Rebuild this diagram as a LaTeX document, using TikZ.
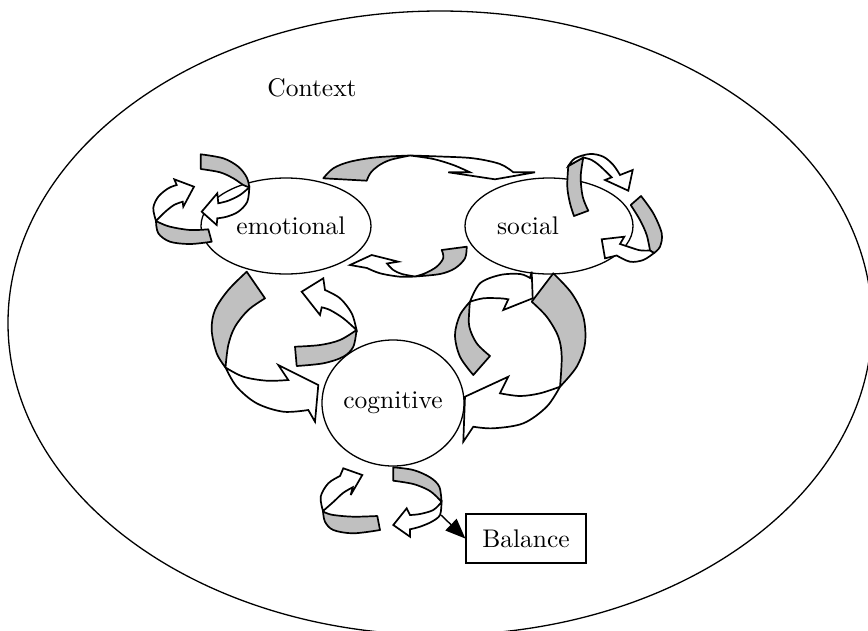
\documentclass[tikz,border=0pt]{standalone}
\usepackage{fontspec}
\newfontfamily\lblfont{lmroman10-regular.otf}
\usetikzlibrary{shapes.geometric,arrows.meta}
\definecolor{ribbongray}{RGB}{192,192,192}
\tikzset{
  areaell/.style={draw, ellipse, line width=1.3pt, inner sep=0pt, fill=white},
  gband/.style={fill=ribbongray, draw=black, line width=1.7pt, line join=round},
  wband/.style={fill=white, draw=black, line width=1.7pt, line join=miter, miter limit=6},
  lbl/.style={font=\lblfont\fontsize{25.5}{30}\selectfont, inner sep=0pt},
  boxnode/.style={draw, line width=1.3pt, inner sep=0pt, minimum width=120pt, minimum height=49pt, font=\lblfont\fontsize{25.5}{30}\selectfont},
  sm/.style={smooth, tension=0.55}
}
\begin{document}
\begin{tikzpicture}[x=1pt,y=-1pt]
\useasboundingbox (0,0) rectangle (868,630);
\clip (0,0) rectangle (868,630);
% context
\node[draw, ellipse, line width=1.3pt, minimum width=864pt, minimum height=624pt, inner sep=0pt] (ctx) at (440,323) {};
\node[lbl, anchor=base] (ctxlabel) at (312,96) {Context};
% domains
\node[areaell, lbl, minimum width=170pt, minimum height=96pt] (emo) at (286,226) {\hspace*{10pt}emotional};
\node[areaell, lbl, minimum width=168pt, minimum height=96pt] (soc) at (549,226) {social\hspace*{42pt}};
\node[areaell, lbl, minimum width=142pt, minimum height=126pt] (cog) at (393,403) {cognitive};

% S1 emotional upper loop
\path[gband] plot[sm] coordinates {(200.7,154.3) (223.3,158.3) (238.3,166.7) (246.7,177.3) (249.3,187.3)} -- plot[sm] coordinates {(249.3,187.3) (243.3,185) (233.3,178.3) (220,172.3) (200.7,169)} -- cycle;
\path[wband] plot[sm] coordinates {(249.3,187.3) (247.3,201.7) (238.3,211.7) (226.7,216.7) (217.3,218.3)} -- (216.7,225) -- (201.7,211.7) -- (217.3,193.3) -- (218.3,203.3) -- plot[sm] coordinates {(218.3,203.3) (228.3,200.7) (240,195) (249.3,187.3)} -- cycle;
% S2 emotional lower-left loop
\path[gband] plot[sm] coordinates {(208.3,229.3) (190,230) (170,226.7) (159,222.5) (156,221)} -- plot[sm] coordinates {(156,221) (158.3,233.3) (170,241.7) (190,244) (211.7,241.7)} -- cycle;
\path[wband] plot[sm] coordinates {(156,221) (153.3,208) (158.3,196.7) (168.3,188.3) (176.7,185)} -- (174.3,179.3) -- (194,186.7) -- (183.3,206.7) -- (182.7,201.7) -- plot[sm] coordinates {(182.7,201.7) (174,205) (165,212) (156,221)} -- cycle;
% S3 top upper arrow
\path[gband] plot[sm] coordinates {(323.3,178.3) (333.3,168.3) (350,161.7) (376.7,157.3) (410,155.5)} -- plot[sm] coordinates {(410,155.5) (390,160) (378,166) (370.5,173) (366.7,180.7)} -- cycle;
\path[wband] plot[sm] coordinates {(410,155.5) (440,156.5) (473.3,158.3) (500,164) (513.3,172.3)} -- (535,172.3) -- (495,179.3) -- (448.3,172.3) -- (470,172.3) -- plot[sm] coordinates {(470,172.3) (453.3,165) (433.3,159) (410,155.5)} -- cycle;
% S4 top lower arrow
\path[gband] plot[sm] coordinates {(466.7,246.7) (465,258.3) (455,268.3) (440,274) (415,276.5)} -- plot[sm] coordinates {(415,276.5) (425,273.3) (436.7,266.7) (443.3,258) (441.7,250)} -- cycle;
\path[wband] plot[sm] coordinates {(415,276.5) (400,276.7) (380,273.3) (367,268)} -- (350,265) -- (371.7,255) -- (398.3,261.7) -- (387,263.5) -- plot[sm] coordinates {(387,263.5) (393.3,270) (402,274) (415,276.5)} -- cycle;
% S5 social upper loop
\path[gband] plot[sm] coordinates {(568.3,166) (567.3,186.7) (570,203.3) (574,216)} -- (588.3,210.7) -- plot[sm] coordinates {(588.3,210.7) (582.7,196.7) (580.7,176.7) (583.3,157.5)} -- cycle;
\path[wband] plot[sm] coordinates {(568.3,166) (575,158.3) (590,154) (603.3,156.7) (613.3,165) (620,175)} -- (632.7,170) -- (628.3,190.7) -- (605,180) -- (611.7,177.3) -- plot[sm] coordinates {(611.7,177.3) (600,166) (591.7,160) (583.3,157.5)} -- cycle;
% S6 social right loop
\path[gband] plot[sm] coordinates {(641,196) (653.3,213.3) (661.7,233.3) (660,246.7) (654,253)} -- (650,250.5) -- plot[sm] coordinates {(650,250.5) (646.7,235) (640,220) (630.7,205)} -- cycle;
\path[wband] plot[sm] coordinates {(654,253) (643.3,260) (630,261.7) (616.7,255.5)} -- (605,258.3) -- (601.7,239.3) -- (624.3,236.7) -- (620,244) -- plot[sm] coordinates {(620,244) (628.3,246.7) (640,250.3) (650,250.5)} -- cycle;
% S7 left big arrow
\path[gband] plot[sm] coordinates {(246.7,271.7) (228.3,290) (215,310) (211.7,330) (216.7,353.3) (225.5,367.5)} -- plot[sm] coordinates {(225.5,367.5) (228.3,345) (235,326.7) (248.3,310) (265,298.3)} -- cycle;
\path[wband] plot[sm] coordinates {(225.5,367.5) (243.3,376.7) (266.7,380.7) (288.3,380)} -- (278.3,365) -- (318.3,385) -- (315,421.7) -- (308.3,410) -- plot[sm] coordinates {(308.3,410) (283.3,411.7) (256.7,403.3) (236.7,386.7) (225.5,367.5)} -- cycle;
% S8 left inner arrow
\path[gband] plot[sm] coordinates {(295,346.7) (320,345) (340,340) (356.5,330)} -- plot[sm] coordinates {(356.5,330) (353.3,346.7) (343.3,356.7) (323.3,363.3) (296.7,366)} -- cycle;
\path[wband] plot[sm] coordinates {(356.5,330) (351.7,313.3) (340,298.3) (325,290)} -- (323.3,278.3) -- (301.7,291.7) -- (320,315) -- (321.7,307.3) -- plot[sm] coordinates {(321.7,307.3) (330,310) (343.3,318.3) (356.5,330)} -- cycle;
% S9 right inner arrow
\path[gband] plot[sm] coordinates {(473.3,375) (460,356.7) (455,335) (460,315) (470,301.7)} -- plot[sm] coordinates {(470,301.7) (469.3,310) (469.3,326.7) (476.7,343.3) (490,356)} -- cycle;
\path[wband] plot[sm] coordinates {(470,301.7) (480,283.3) (500,275) (520,274) (530,278)} -- (531.7,271.7) -- (532.7,298.3) -- (503.3,310) -- (508.3,299.3) -- plot[sm] coordinates {(508.3,299.3) (500,298.3) (483.3,298.3) (470,301.7)} -- cycle;
% S10 right big arrow
\path[gband] plot[sm] coordinates {(553.3,273.3) (571.7,293.3) (583.3,316.7) (585,343.3) (576.7,366.7) (560,386.7)} -- plot[sm] coordinates {(560,386.7) (561.7,356.7) (558.3,336.7) (546.7,316.7) (531.7,301.7)} -- cycle;
\path[wband] plot[sm] coordinates {(560,386.7) (546.7,406.7) (523.3,423.3) (493.3,428.3) (473.3,426.7)} -- (463.3,441.7) -- (465,396.7) -- (508.3,376.7) -- (500,393.3) -- plot[sm] coordinates {(500,393.3) (520,396) (540,393.3) (560,386.7)} -- cycle;
% S11 cognitive bottom-left loop
\path[gband] plot[sm] coordinates {(377.3,516) (353.3,516.7) (333.3,515) (325,512.5) (323,511)} -- plot[sm] coordinates {(323,511) (325,521.7) (333.3,530) (353.3,533.3) (380,530)} -- cycle;
\path[wband] plot[sm] coordinates {(323,511) (320.7,496.7) (328.3,483.3) (340,476)} -- (343.3,468.3) -- (362.3,475) -- (350.7,495) -- (352.7,487.3) -- plot[sm] coordinates {(352.7,487.3) (343,493) (333.3,502) (323,511)} -- cycle;
% S12 cognitive bottom-right loop
\path[gband] plot[sm] coordinates {(393.3,467.3) (413.3,470) (430,477.3) (439.3,486.7) (441.5,502)} -- plot[sm] coordinates {(441.5,502) (436.7,496.7) (428.3,490) (413.3,484) (393.3,480.7)} -- cycle;
\path[wband] plot[sm] coordinates {(441.5,502) (440,515) (431.7,521.7) (420,526.7) (410,529.3)} -- (410,536.7) -- (393.3,525) -- (406.7,508.3) -- (410,515) -- plot[sm] coordinates {(410,515) (420,514) (433.3,510) (441.5,502)} -- cycle;

% Balance
\node[boxnode] (bal) at (526,538.5) {Balance};
\coordinate (bstart) at (441,515);
\draw[line width=1.4pt, -{Triangle[length=20pt,width=16pt]}] (bstart) -- (bal.west);
\end{tikzpicture}
\end{document}
